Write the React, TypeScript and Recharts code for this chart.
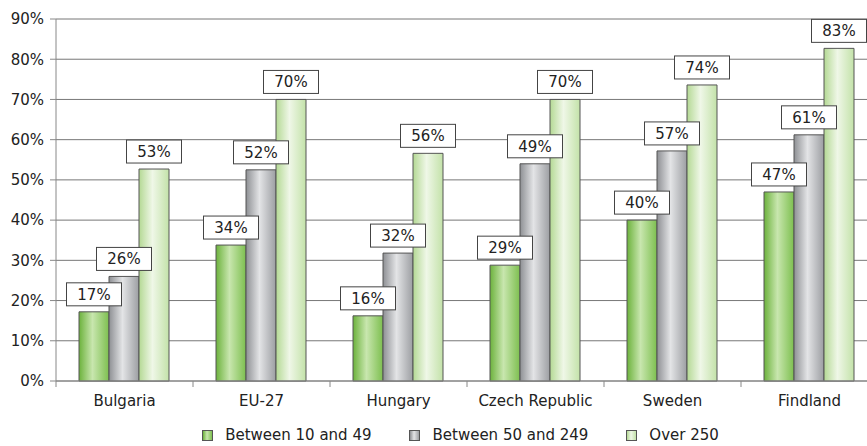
import { Bar, BarChart, CartesianGrid, LabelList, Legend, XAxis, YAxis } from "recharts";

const categories = ["Bulgaria", "EU-27", "Hungary", "Czech Republic", "Sweden", "Findland"];
const small = [17.2, 33.8, 16.2, 28.8, 40, 47];
const medium = [26, 52.5, 31.8, 54, 57.2, 61.2];
const large = [52.7, 70, 56.6, 70, 73.6, 82.7];
const smallLabels = ["17%", "34%", "16%", "29%", "40%", "47%"];
const mediumLabels = ["26%", "52%", "32%", "49%", "57%", "61%"];
const largeLabels = ["53%", "70%", "56%", "70%", "74%", "83%"];
const yTicks = [0, 10, 20, 30, 40, 50, 60, 70, 80, 90];

const data = categories.map((name, i) => ({
  name,
  small: small[i],
  medium: medium[i],
  large: large[i],
  smallLabel: smallLabels[i],
  mediumLabel: mediumLabels[i],
  largeLabel: largeLabels[i],
}));

const font = "'DejaVu Sans', sans-serif";
const ink = "#222";

const series = [
  { key: "small", name: "Between 10 and 49", grad: "gSmall", stops: ["#6cb23c", "#c8e6ae", "#7dbf4f"] },
  { key: "medium", name: "Between 50 and 249", grad: "gMedium", stops: ["#8e9094", "#e3e4e6", "#9c9ea2"] },
  { key: "large", name: "Over 250", grad: "gLarge", stops: ["#b4d994", "#eff7e7", "#c3e2a9"] },
];

function BoxLabel(props: any) {
  const { x, y, width, value } = props;
  const cx = x + width / 2;
  const bw = 55;
  const bh = 23;
  const top = y - 6 - bh;
  return (
    <g>
      <rect x={cx - bw / 2} y={top} width={bw} height={bh} fill="#fff" stroke="#444" strokeWidth={1} />
      <text x={cx} y={top + bh / 2 + 5.5} textAnchor="middle" fill={ink} fontSize={15} fontFamily={font}>
        {value}
      </text>
    </g>
  );
}

function CategoryTick(props: any) {
  const { x, y, payload } = props;
  const half = payload && payload.offset ? payload.offset : 68.5;
  return (
    <g>
      <line x1={x - half} x2={x - half} y1={y} y2={y + 6} stroke="#888" />
      <text x={x} y={y + 25} textAnchor="middle" fill={ink} fontSize={15} fontFamily={font}>
        {payload.value}
      </text>
    </g>
  );
}

function LegendContent() {
  return (
    <div
      style={{
        display: "flex",
        justifyContent: "center",
        alignItems: "center",
        height: 20,
        lineHeight: "20px",
        fontFamily: font,
        fontSize: 15,
        color: ink,
      }}
    >
      {series.map((s, i) => (
        <div key={s.key} style={{ display: "flex", alignItems: "center", marginRight: i < series.length - 1 ? 38 : 0 }}>
          <span
            style={{
              display: "inline-block",
              width: 9,
              height: 9,
              border: "1px solid #555",
              marginRight: 12,
              background: `linear-gradient(to right, ${s.stops[0]}, ${s.stops[1]} 45%, ${s.stops[2]})`,
            }}
          />
          <span>{s.name}</span>
        </div>
      ))}
    </div>
  );
}

export default function App() {
  return (
    <div style={{ position: "absolute", left: 0, top: 0, width: 867, height: 446, overflow: "hidden", background: "#fff" }}>
      <BarChart
        width={890}
        height={446}
        data={data}
        margin={{ top: 19, right: 12, bottom: 0, left: 0 }}
        barGap={0}
        barCategoryGap={23}
      >
        <defs>
          {series.map((s) => (
            <linearGradient key={s.grad} id={s.grad} x1="0" y1="0" x2="1" y2="0">
              <stop offset="0%" stopColor={s.stops[0]} />
              <stop offset="45%" stopColor={s.stops[1]} />
              <stop offset="100%" stopColor={s.stops[2]} />
            </linearGradient>
          ))}
        </defs>
        <CartesianGrid vertical={false} stroke="#777" strokeWidth={1} />
        <XAxis
          dataKey="name"
          height={45}
          tickSize={0}
          tickMargin={0}
          tickLine={false}
          axisLine={{ stroke: "#888" }}
          tick={<CategoryTick />}
          interval={0}
        />
        <YAxis
          width={56}
          domain={[0, 90]}
          ticks={yTicks}
          tickFormatter={(v) => `${v}%`}
          tickSize={6}
          tickMargin={6}
          axisLine={{ stroke: "#888" }}
          tickLine={{ stroke: "#888" }}
          tick={{ fill: ink, fontSize: 15, fontFamily: font }}
        />
        <Legend verticalAlign="bottom" content={<LegendContent />} wrapperStyle={{ left: 0, width: 921, bottom: 1 }} />
        {series.map((s) => (
          <Bar
            key={s.key}
            dataKey={s.key}
            name={s.name}
            fill={`url(#${s.grad})`}
            stroke="#555"
            strokeWidth={1}
            isAnimationActive={false}
          >
            <LabelList dataKey={`${s.key}Label`} content={<BoxLabel />} />
          </Bar>
        ))}
      </BarChart>
    </div>
  );
}
